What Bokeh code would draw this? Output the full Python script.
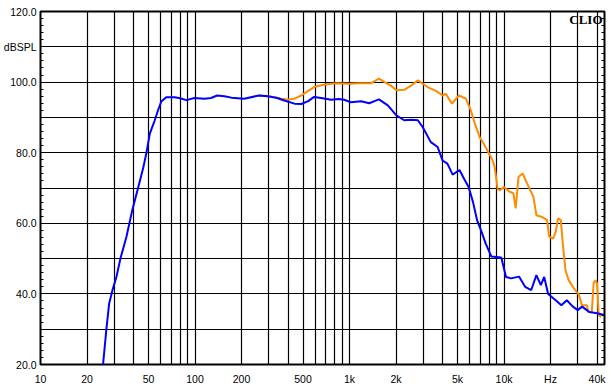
from bokeh.plotting import figure
from bokeh.models import FixedTicker, Label, LinearAxis
from bokeh.embed import file_html
from bokeh.resources import INLINE

# ---- data ----
blue_freq = [25.4, 26.7, 27.8, 29.2, 31.0, 32.9, 36.0, 39.3, 42.8, 46.1, 48.5, 51.0, 54.9, 57.7, 60.5, 65.1,
             73.8, 80, 88, 99, 115, 127, 139, 155, 172, 208, 259, 297, 340, 378, 440, 488, 540, 590, 670,
             760, 850, 925, 1020, 1190, 1340, 1550, 1770, 2010, 2260, 2500, 2770, 2980, 3360, 3720, 4000,
             4300, 4650, 5150, 5500, 5900, 6300, 6700, 7100, 7600, 8280, 9600, 10300, 11100, 12500, 13700,
             15000, 16200, 17300, 18200, 19300, 21600, 23500, 25500, 27900, 30000, 32000, 35600, 40000, 44500]
blue_db = [20.0, 30.0, 37.2, 41.0, 44.8, 50.0, 56.2, 63.8, 70.0, 75.5, 80.0, 85.4, 89.2, 92.1, 94.5, 95.7,
           95.7, 95.4, 94.9, 95.5, 95.3, 95.5, 96.2, 96.0, 95.6, 95.3, 96.2, 96.0, 95.5, 94.8, 93.9, 93.8,
           94.6, 95.8, 95.4, 95.0, 95.2, 95.0, 94.3, 94.6, 94.0, 95.1, 93.4, 90.6, 89.2, 89.3, 89.2, 87.2,
           83.0, 81.6, 77.8, 76.9, 73.8, 75.1, 72.7, 70.3, 66.0, 60.8, 58.0, 54.3, 50.6, 50.3, 44.8, 44.4,
           44.9, 42.0, 41.1, 45.3, 42.5, 44.8, 40.0, 38.2, 36.8, 38.2, 36.4, 35.4, 36.4, 34.9, 34.5, 34.0]

orange_freq = [259, 297, 340, 362, 400, 440, 488, 540, 590, 690, 820, 980, 1160, 1380, 1550, 1690, 1850,
               2010, 2260, 2500, 2770, 3200, 3630, 4000, 4200, 4600, 5100, 5660, 6100, 6500, 6960, 7400,
               7900, 8400, 8700, 9100, 9400, 10000, 10800, 11500, 11900, 12400, 13200, 14100, 15500, 16200,
               17600, 19000, 19600, 20800, 21600, 22400, 23300, 24000, 25000, 26200, 28300, 30600, 31900,
               34400, 35000, 37000, 38000, 39000, 40000, 41000, 42500]
orange_db = [96.2, 96.0, 95.6, 95.3, 95.1, 95.3, 96.2, 97.5, 98.6, 99.3, 99.7, 99.5, 99.7, 99.7, 101.0,
             100.0, 99.0, 97.7, 97.8, 99.0, 100.5, 98.6, 97.5, 96.2, 96.7, 93.9, 96.2, 95.3, 92.0, 88.0,
             84.4, 82.5, 80.2, 78.0, 76.0, 69.6, 69.4, 70.3, 69.0, 68.5, 64.2, 73.1, 74.1, 71.3, 67.5, 62.3,
             61.8, 60.9, 56.2, 55.7, 57.6, 61.4, 60.9, 54.3, 46.7, 43.9, 41.6, 39.7, 36.8, 36.8, 34.9, 34.9,
             43.0, 43.9, 43.0, 34.0, 33.5]

x_tick_values = [10, 20, 50, 100, 200, 500, 1000, 2000, 5000, 10000, 20000, 40000]
x_tick_labels = ["10", "20", "50", "100", "200", "500", "1k", "2k", "5k", "10k", "Hz", "40k"]
x_grid_values = ([m * 10 for m in range(1, 10)] + [m * 100 for m in range(1, 10)] +
                 [m * 1000 for m in range(1, 10)] + [m * 10000 for m in range(1, 5)])
y_tick_values = [20, 40, 60, 80, 100, 110, 120]
y_tick_labels = ["20.0", "40.0", "60.0", "80.0", "100.0", "dBSPL", "120.0"]
y_grid_values = list(range(20, 121, 10))
y_minor_values = [v for v in range(22, 120, 2) if v % 10 != 0]

FONT = "Liberation Sans"

p = figure(width=612, height=391, x_axis_type="log", x_range=(10, 44700), y_range=(20, 120),
           output_backend="svg", toolbar_location=None,
           min_border_left=39, min_border_right=8, min_border_top=11, min_border_bottom=27)
p.background_fill_color = "white"
p.border_fill_color = "white"
p.outline_line_color = "black"
p.outline_line_width = 2

# grids
p.xgrid.ticker = FixedTicker(ticks=x_grid_values)
p.ygrid.ticker = FixedTicker(ticks=y_grid_values)
for g in (p.xgrid, p.ygrid):
    g.grid_line_color = "black"
    g.grid_line_width = 1.2
    g.grid_line_alpha = 1.0

# x axis
xa = p.xaxis[0]
xa.ticker = FixedTicker(ticks=x_tick_values)
xa.major_label_overrides = {v: l for v, l in zip(x_tick_values, x_tick_labels)}
xa.axis_line_color = None
xa.major_tick_line_color = None
xa.minor_tick_line_color = None
xa.major_tick_in = 0
xa.major_tick_out = 0
xa.major_label_standoff = 8
xa.major_label_text_font = FONT
xa.major_label_text_font_size = "10.5px"
xa.major_label_text_color = "black"

# y axis
ya = p.yaxis[0]
ya.ticker = FixedTicker(ticks=y_tick_values, minor_ticks=y_minor_values)
ya.major_label_overrides = {v: l for v, l in zip(y_tick_values, y_tick_labels)}
ya.axis_line_color = None
ya.major_tick_line_color = None
ya.major_tick_in = 0
ya.major_tick_out = 0
ya.minor_tick_in = 3
ya.minor_tick_out = 0
ya.minor_tick_line_color = "black"
ya.minor_tick_line_width = 1
ya.major_label_standoff = 4
ya.major_label_text_font = FONT
ya.major_label_text_font_size = "10.5px"
ya.major_label_text_color = "black"

# right axis with minor ticks only
ra = LinearAxis(ticker=FixedTicker(ticks=[], minor_ticks=y_minor_values))
ra.axis_line_color = None
ra.major_tick_line_color = None
ra.major_label_text_font_size = "0px"
ra.minor_tick_in = 3
ra.minor_tick_out = 0
ra.minor_tick_line_color = "black"
p.add_layout(ra, "right")

# curves
p.line(orange_freq, orange_db, line_color="#FF8C00", line_width=2)
p.line(blue_freq, blue_db, line_color="#0000FF", line_width=2)

p.add_layout(Label(x=43400, y=119.8, text="CLIO", text_align="right", text_baseline="top",
                   text_font="Liberation Serif", text_font_style="bold", text_font_size="13px",
                   text_color="black"))

open("out.html", "w").write(file_html(p, INLINE))
